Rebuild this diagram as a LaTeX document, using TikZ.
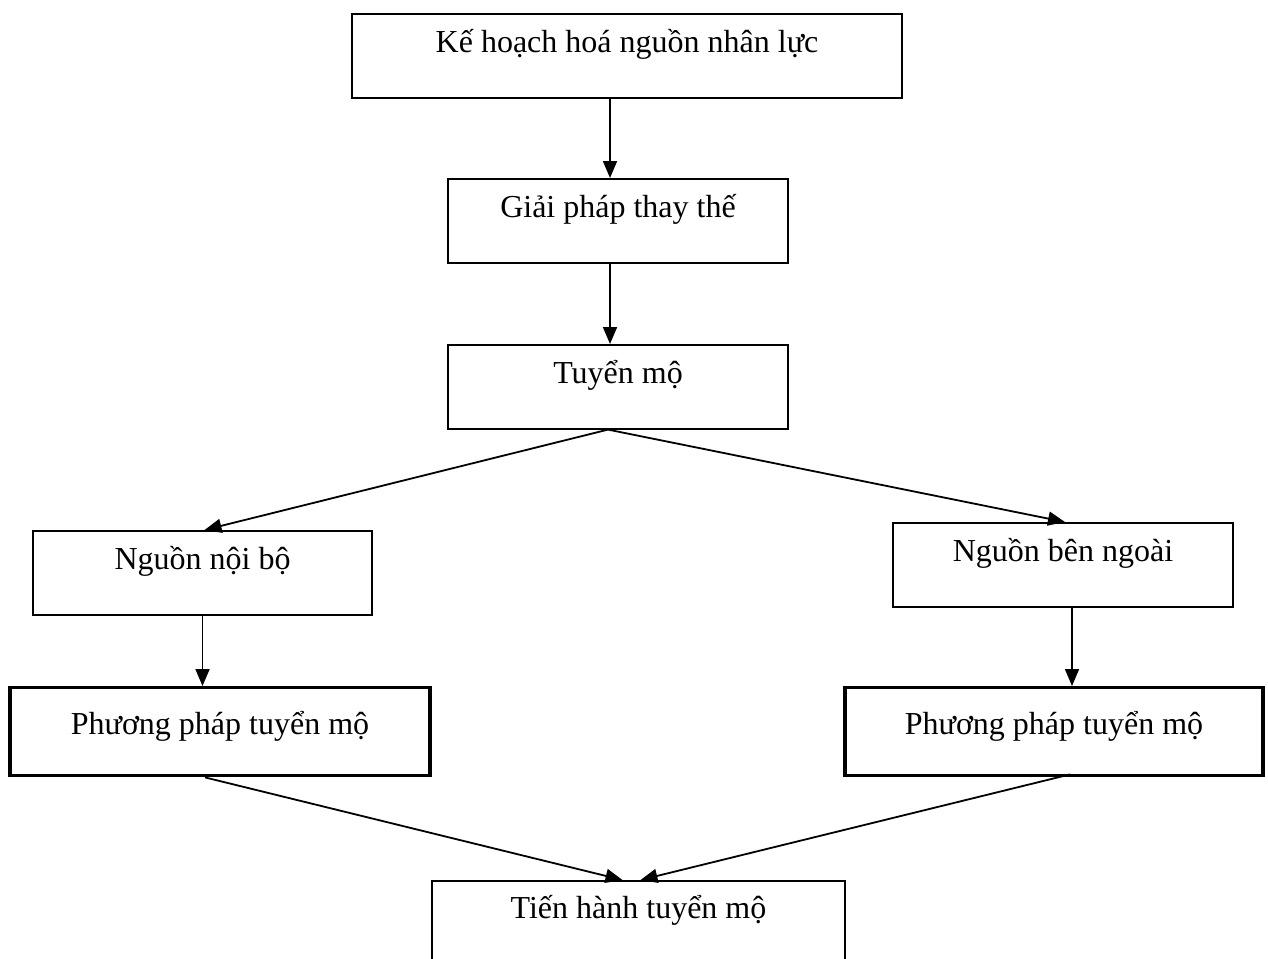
\documentclass[tikz,border=0pt]{standalone}
\usepackage{fontspec}
\setmainfont{Liberation Serif}
\usetikzlibrary{arrows.meta,positioning,calc}
\tikzset{
  box/.style={draw, line width=1.6pt, rectangle, anchor=north, inner xsep=0pt, inner ysep=0pt,
    font=\fontsize{32}{38}\selectfont, text height=39pt, text depth=45pt},
  thickbox/.style={box, line width=3.4pt, text height=47pt, text depth=41pt},
  arr/.style={line width=1.8pt, -{Triangle[length=17pt,width=14pt]}},
}
\begin{document}
\begin{tikzpicture}[x=1pt,y=-1pt]
\useasboundingbox (0,0) rectangle (1268,958);
\clip (0,0) rectangle (1268,958);
\node[box, minimum width=550pt] (b1) at (627,13) {Kế hoạch hoá nguồn nhân lực};
\node[box, minimum width=340pt] (b2) at (618,178) {Giải pháp thay thế};
\node[box, minimum width=340pt] (b3) at (618,344) {Tuyển mộ};
\node[box, minimum width=339pt] (b4) at (202.5,530) {Nguồn nội bộ};
\node[box, minimum width=340pt] (b5) at (1063,522) {Nguồn bên ngoài};
\node[thickbox, minimum width=420pt] (b6) at (220,686) {Phương pháp tuyển mộ};
\node[thickbox, minimum width=418pt] (b7) at (1054,686) {Phương pháp tuyển mộ};
\node[box, minimum width=413pt, text height=38pt, text depth=100pt] (b8) at (638.5,880) {Tiến hành tuyển mộ};
\draw[arr] ([xshift=-8pt]b2.north |- b1.south) -- ([xshift=-8pt]b2.north);
\draw[arr] ([xshift=-8pt]b2.south) -- ([xshift=-8pt]b3.north);
\draw[arr] ([xshift=-10pt]b3.south) -- ([xshift=2pt]b4.north);
\draw[arr] ([xshift=-10pt]b3.south) -- ([xshift=2pt]b5.north);
\draw[arr] (b4.south) -- (b4.south |- b6.north);
\draw[arr] ([xshift=9pt]b5.south) -- ([xshift=9pt]b5.south |- b7.north);
\draw[arr] ([xshift=-15pt]b6.south) -- ([xshift=-16pt]b8.north);
\draw[arr] ([xshift=16pt,yshift=3pt]b7.south) -- ([xshift=2pt]b8.north);
\end{tikzpicture}
\end{document}
